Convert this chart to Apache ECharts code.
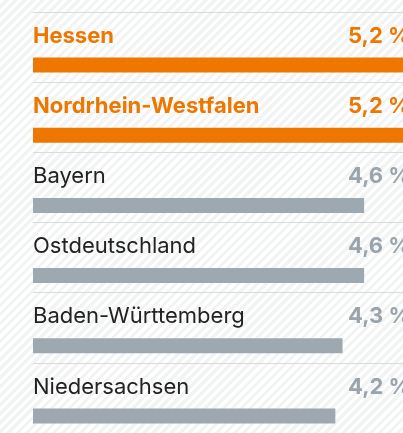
<!DOCTYPE html>
<html>
<head>
<meta charset="utf-8">
<script src="https://cdn.jsdelivr.net/npm/echarts@6/dist/echarts.min.js"></script>
<style>
  html, body { margin: 0; padding: 0; }
  body {
    background: repeating-linear-gradient(135deg, #ffffff 0px, #ffffff 3.2px, #f2f3f3 3.2px, #f2f3f3 6.4px);
  }
  #main { width: 403px; height: 433px; }
</style>
</head>
<body>
<div id="main"></div>
<script>
// Regionen und Werte (in %)
var regions = ['Hessen', 'Nordrhein-Westfalen', 'Bayern', 'Ostdeutschland', 'Baden-Württemberg', 'Niedersachsen'];
var values = [5.2, 5.2, 4.6, 4.6, 4.3, 4.2];
// hervorgehobene Zeilen (orange)
var highlight = [true, true, false, false, false, false];

var ORANGE = '#ee7700';
var GRAY = '#9ea8b1';
var FONT = 'Inter';

var chart = echarts.init(document.getElementById('main'));

var fmt = function (v) { return v.toFixed(1).replace('.', ',') + ' %'; };

var option = {
  animation: false,
  backgroundColor: 'transparent',
  grid: { left: 33, top: 12, right: 0, height: 430, containLabel: false },
  // die Skala läuft über den rechten Rand hinaus (Balken 5,2 % sind abgeschnitten)
  xAxis: { type: 'value', min: 0, max: 5.14, show: false },
  yAxis: {
    type: 'category',
    inverse: true,
    data: regions,
    axisLine: { show: false },
    axisTick: { show: false },
    axisLabel: { show: false },
    splitLine: { show: true, interval: 0, lineStyle: { color: '#dadcdc', width: 1 } }
  },
  series: [
    {
      // unsichtbare Hilfsreihe, trägt die Prozentwerte
      type: 'bar',
      silent: true,
      barWidth: 15,
      barGap: '140%',
      itemStyle: { color: 'rgba(0,0,0,0)' },
      data: values.map(function (v, i) {
        return {
          value: v,
          label: { color: highlight[i] ? ORANGE : '#9aa4ad' }
        };
      }),
      label: {
        show: true,
        position: [315, 14.5],
        align: 'left',
        verticalAlign: 'middle',
        fontFamily: FONT,
        fontSize: 22,
        fontWeight: 'bold',
        formatter: function (p) { return fmt(p.value); }
      }
    },
    {
      type: 'bar',
      barWidth: 15,
      data: values.map(function (v, i) {
        return {
          value: v,
          itemStyle: { color: highlight[i] ? ORANGE : GRAY },
          label: highlight[i]
            ? { color: ORANGE, fontWeight: 'bold' }
            : { color: '#222222', fontWeight: 'normal' }
        };
      }),
      label: {
        show: true,
        position: [0, -21.5],
        align: 'left',
        verticalAlign: 'middle',
        fontFamily: FONT,
        fontSize: 22,
        formatter: '{b}'
      }
    }
  ]
};

chart.setOption(option);
</script>
</body>
</html>
